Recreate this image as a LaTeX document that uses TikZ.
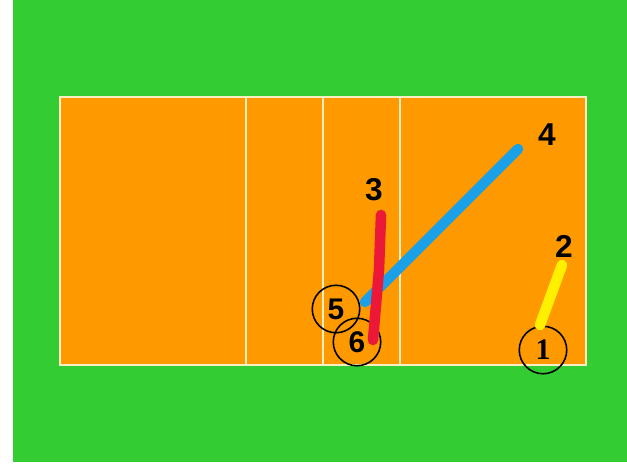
\documentclass[tikz,border=0pt]{standalone}
\usepackage{fontspec}
\setmainfont{Liberation Sans}
\newfontfamily\serifdigits{Liberation Serif}
\usetikzlibrary{positioning}
\definecolor{fieldgreen}{RGB}{51,204,51}
\definecolor{courtorange}{RGB}{255,153,0}
\definecolor{linecream}{RGB}{250,238,195}
\definecolor{runblue}{RGB}{25,160,230}
\definecolor{runred}{RGB}{235,25,55}
\definecolor{runyellow}{RGB}{255,240,0}

\begin{document}
\begin{tikzpicture}[x=0.02cm, y=-0.02cm, every node/.style={font=\bfseries\fontsize{18}{18}\selectfont}]
\tikzstyle{num}=[inner sep=0pt]
\tikzstyle{spot}=[draw, circle, line width=0.9pt, minimum size=0.95cm, inner sep=0pt, font=\bfseries\fontsize{17}{17}\selectfont]
\tikzstyle{run}=[line width=6pt, line cap=round]
\useasboundingbox (0,0) rectangle (627,464);
% field and court
\fill[fieldgreen] (13,0) rectangle (627,462);
\fill[courtorange] (60,97) rectangle (586,365);
\draw[linecream, line width=1.3pt] (60,97) rectangle (586,365);
\foreach \xl in {246,323,400} \draw[linecream, line width=1.1pt] (\xl,97) -- (\xl,365);
% positions
\node[num] (n4) at (547,135) {4};
\node[num] (n3) at (374,190) {3};
\node[num] (n2) at (564,246) {2};
\node[spot] (p5) at (336,309) {5};
\node[spot] (p6) at (357,342) {6};
\node[spot] (p1) at (543,350) {\serifdigits 1};
\coordinate (a4) at (518,149);
\coordinate (b5) at (365,302);
\coordinate (a3) at (381,215);
\coordinate (b6) at (373,340);
\coordinate (a2) at (562,265);
\coordinate (b1) at (540,325);
% runs
\draw[run, runblue] (a4) -- (b5);
\draw[run, runred] (a3) -- (379,270) -- (b6);
\draw[run, runyellow] (a2) -- (b1);
\end{tikzpicture}
\end{document}
